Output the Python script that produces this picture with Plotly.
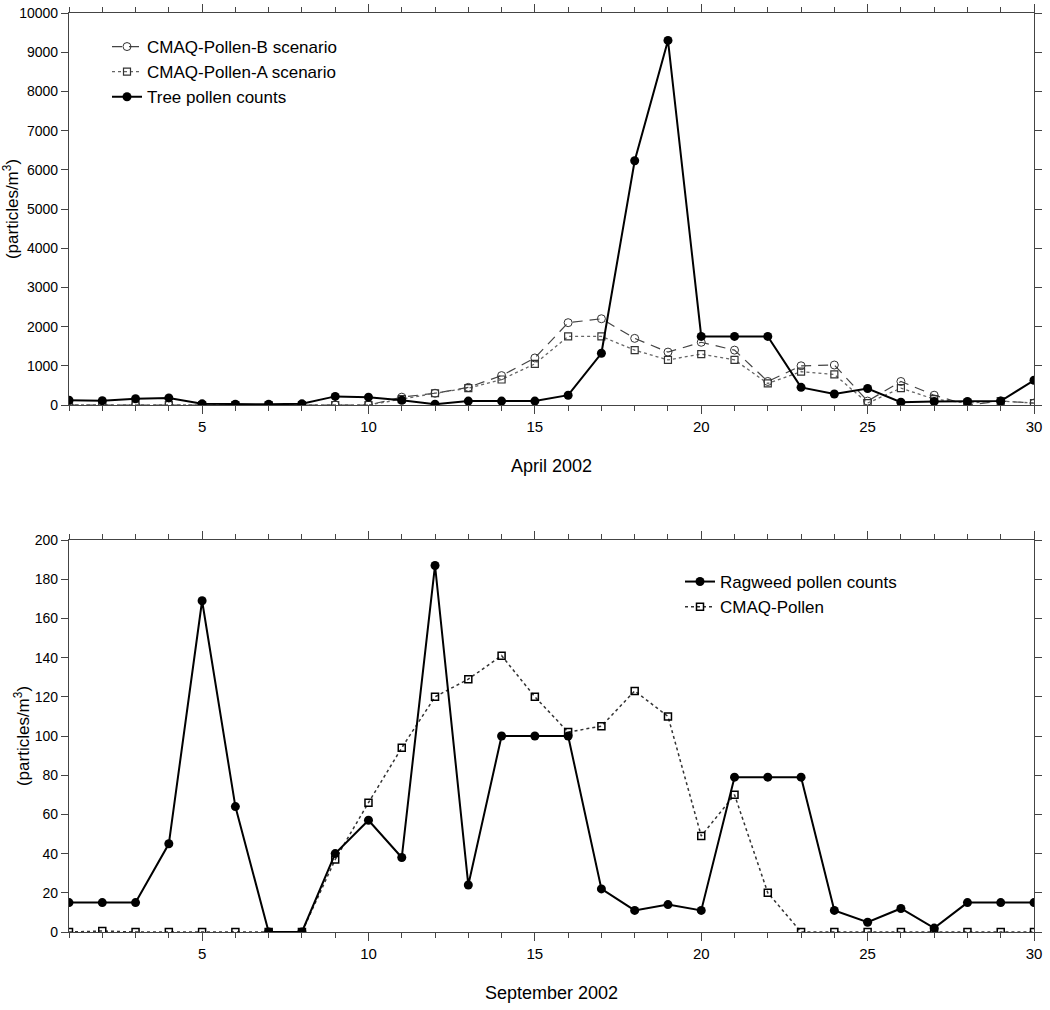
import plotly.graph_objects as go

days = list(range(1, 31))

# April 2002
tree_counts = [120, 110, 160, 180, 30, 20, 20, 30, 220, 200, 120, 20, 100, 100, 100, 250, 1320, 6230, 9300, 1750,
               1750, 1750, 450, 280, 420, 70, 90, 90, 100, 630]
cmaq_b = [0, 0, 0, 0, 0, 0, 0, 0, 0, 0, 200, 300, 450, 750, 1200, 2100, 2200, 1700, 1350, 1600,
          1400, 600, 1000, 1020, 100, 600, 250, 0, 100, 50]
cmaq_a = [0, 0, 0, 0, 0, 0, 0, 0, 0, 0, 150, 300, 430, 650, 1050, 1750, 1750, 1400, 1150, 1300,
          1150, 550, 850, 780, 50, 430, 150, 50, 100, 50]

# September 2002
ragweed = [15, 15, 15, 45, 169, 64, 0, 0, 40, 57, 38, 187, 24, 100, 100, 100, 22, 11, 14, 11,
           79, 79, 79, 11, 5, 12, 2, 15, 15, 15]
cmaq_sep = [0, 0.5, 0, 0, 0, 0, 0, 0, 37, 66, 94, 120, 129, 141, 120, 102, 105, 123, 110, 49,
            70, 20, 0, 0, 0, 0, 0, 0, 0, 0]

fig = go.Figure()

# Top panel
fig.add_trace(go.Scatter(x=days, y=cmaq_b, name="CMAQ-Pollen-B scenario", mode="lines+markers",
                         line=dict(color="#444444", width=1.2, dash="10px,7px"),
                         marker=dict(symbol="circle-open", size=8, color="#333333", line=dict(width=1)),
                         xaxis="x", yaxis="y", legend="legend"))
fig.add_trace(go.Scatter(x=days, y=cmaq_a, name="CMAQ-Pollen-A scenario", mode="lines+markers",
                         line=dict(color="#666666", width=1.3, dash="dot"),
                         marker=dict(symbol="square-open", size=7, color="#333333", line=dict(width=1.2)),
                         xaxis="x", yaxis="y", legend="legend"))
fig.add_trace(go.Scatter(x=days, y=tree_counts, name="Tree pollen counts", mode="lines+markers",
                         line=dict(color="black", width=2),
                         marker=dict(symbol="circle", size=9, color="black"),
                         xaxis="x", yaxis="y", legend="legend"))

# Bottom panel
fig.add_trace(go.Scatter(x=days, y=cmaq_sep, name="CMAQ-Pollen", mode="lines+markers",
                         line=dict(color="#333333", width=1.5, dash="dot"),
                         marker=dict(symbol="square-open", size=7, color="black", line=dict(width=1.5)),
                         xaxis="x2", yaxis="y2", legend="legend2"))
fig.add_trace(go.Scatter(x=days, y=ragweed, name="Ragweed pollen counts", mode="lines+markers",
                         line=dict(color="black", width=2),
                         marker=dict(symbol="circle", size=9, color="black"),
                         xaxis="x2", yaxis="y2", legend="legend2"))

W, H = 1050, 1010


def px_x(p):
    return p / W


def px_y(p):
    return 1 - p / H


xcommon = dict(range=[1, 30], tick0=0, dtick=5, showgrid=False, zeroline=False, showline=True,
               linecolor="#444444", linewidth=1.2, mirror="allticks", ticks="outside", ticklen=8,
               tickcolor="#444444", tickwidth=1.2, automargin=False, ticklabeloverflow="allow",
               minor=dict(dtick=1, tick0=0, ticks="outside", ticklen=5, tickcolor="#444444", tickwidth=1),
               tickfont=dict(family="Liberation Sans Narrow, Arial Narrow, sans-serif", size=15, color="black"),
               title_font=dict(family="Liberation Sans Narrow, Arial Narrow, sans-serif", size=18, color="black"),
               domain=[px_x(69), px_x(1034)])
ycommon = dict(showgrid=False, zeroline=False, showline=True, linecolor="#444444", linewidth=1.2,
               mirror="allticks", ticks="outside", ticklen=7, tickcolor="#444444", tickwidth=1.2,
               automargin=False, tickformat="d", ticklabeloverflow="allow",
               tickfont=dict(family="Liberation Sans, Arial, sans-serif", size=14, color="black"),
               title=dict(text="(particles/m<sup>3</sup>)", standoff=0,
                          font=dict(family="Liberation Sans, Arial, sans-serif", size=17, color="black")))

fig.update_layout(
    width=W, height=H, margin=dict(l=0, r=0, t=0, b=0),
    paper_bgcolor="white", plot_bgcolor="white",
    xaxis=dict(xcommon, anchor="y", title=dict(text="April 2002", standoff=25)),
    yaxis=dict(ycommon, anchor="x", range=[0, 10000], dtick=1000,
               domain=[px_y(405), px_y(13)]),
    xaxis2=dict(xcommon, anchor="y2", title=dict(text="September 2002", standoff=25)),
    yaxis2=dict(ycommon, anchor="x2", range=[0, 200], dtick=20,
                domain=[px_y(932), px_y(540)]),
    legend=dict(x=px_x(107), y=px_y(29), xanchor="left", yanchor="top", bgcolor="rgba(0,0,0,0)",
                font=dict(family="Liberation Sans, Arial, sans-serif", size=17, color="black"),
                tracegroupgap=0, itemwidth=30),
    legend2=dict(x=px_x(680), y=px_y(564), xanchor="left", yanchor="top", bgcolor="rgba(0,0,0,0)",
                 font=dict(family="Liberation Sans, Arial, sans-serif", size=17, color="black"),
                 traceorder="reversed", itemwidth=30),
    showlegend=True,
)

fig.write_html("out.html", config={"displayModeBar": False},
               post_script="document.body.style.margin='0';")
